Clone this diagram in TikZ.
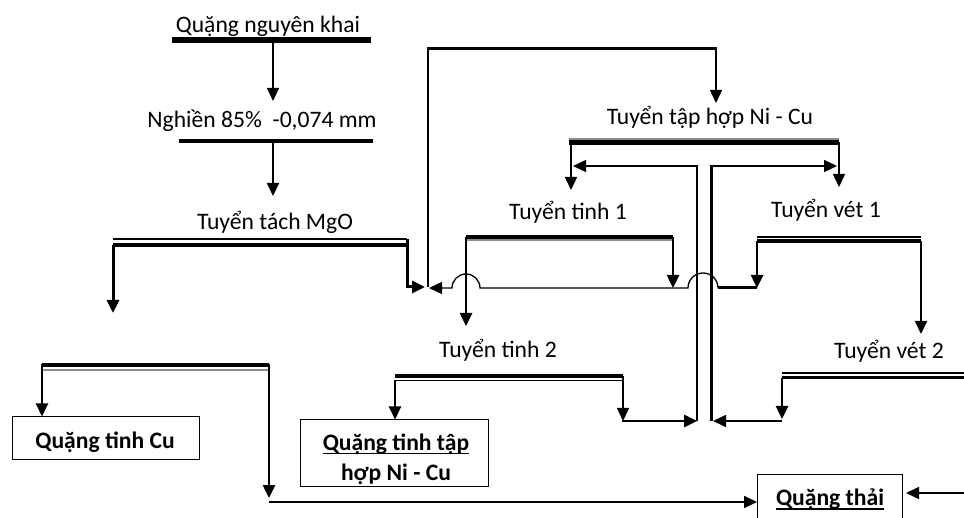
\documentclass[tikz,border=0pt]{standalone}
\usepackage{fontspec}
\setmainfont{Carlito}
\usetikzlibrary{arrows.meta}
\begin{document}
\begin{tikzpicture}[x=1pt,y=-1pt,
  arr/.style={-{Triangle[length=13pt,width=12pt]}},
  lbl/.style={anchor=base, inner sep=0pt, font=\fontsize{23.6}{28}\selectfont},
  blbl/.style={anchor=base, inner sep=0pt, font=\fontsize{23.6}{28}\selectfont\bfseries},
  boxs/.style={draw, line width=1pt, inner sep=0pt, fill=white},
  bar/.style={line width=#1, line cap=butt},
  greybar/.style={line width=#1, draw=black!45}]
\clip (0,0) rectangle (964,518);
\fill[white] (0,0) rectangle (964,518);

% ---------- raw ore ----------
\node[lbl] (raw) at (268,33) {Quặng nguyên khai};
\coordinate (rawL) at (172,40); \coordinate (rawR) at (371,40);
\draw[bar=6pt] (rawL) -- (rawR);
\coordinate (rawO) at (273,43); \coordinate (grI) at (273,101);
\draw[line width=1.2pt, arr] (rawO) -- (grI);

% ---------- grinding ----------
\node[lbl] (grind) at (262,128) {Nghiền 85\%~~-0,074 mm};
\coordinate (grL) at (179,141); \coordinate (grR) at (373,141);
\draw[bar=4.5pt] (grL) -- (grR);
\coordinate (grO) at (273,143); \coordinate (mgI) at (273,196);
\draw[line width=2.2pt, arr] (grO) -- (mgI);

% ---------- MgO ----------
\node[lbl] (mgo) at (275,230) {Tuyển tách MgO};
\coordinate (mgL) at (113,239); \coordinate (mgR) at (407,239);
\draw[bar=1.4pt] (mgL) -- (mgR);
\draw[bar=4.5pt] (113,245) -- (407,245);
\coordinate (mgLo) at (113,313);
\draw[line width=3pt, arr] (113,245) -- (mgLo);
\coordinate (feedM) at (425,287);
\draw[line width=3pt, arr] (mgR) -- (407,287) -- (feedM);

% ---------- feed line to bulk flotation ----------
\coordinate (feedJ) at (428,287);
\coordinate (topL) at (428,49); \coordinate (topR) at (716,49);
\coordinate (tapI) at (716,103);
\draw[line width=1.5pt] (feedJ) -- (topL);
\draw[line width=3pt] (426.5,49) -- (topR);
\draw[line width=1.5pt, arr] (716,47.5) -- (tapI);

% ---------- bulk Ni-Cu ----------
\node[lbl] (tap) at (710,125) {Tuyển tập hợp Ni - Cu};
\coordinate (tapL) at (569,139); \coordinate (tapR) at (839,139);
\draw[greybar=2pt] (tapL) -- (tapR);
\draw[bar=5pt] (569,142.5) -- (839,142.5);
\coordinate (t1I) at (571,190); \coordinate (v1I) at (839,187);
\draw[line width=1.5pt, arr] (571,142) -- (t1I);
\draw[line width=1.5pt, arr] (839,142) -- (v1I);

% ---------- central T (recycles) ----------
\coordinate (tLb) at (697,421); \coordinate (tLt) at (697,166);
\coordinate (tLe) at (573,166);
\draw[line width=1.5pt, arr] (tLb) -- (tLt) -- (tLe);
\coordinate (tRb) at (711,421); \coordinate (tRt) at (711,166);
\coordinate (tRe) at (837,166);
\draw[line width=3pt] (tRb) -- (711,166);
\draw[line width=1.5pt, arr] (710,166) -- (tRe);

% ---------- cleaner 1 ----------
\node[lbl] (t1) at (568,220) {Tuyển tinh 1};
\coordinate (t1L) at (466,237); \coordinate (t1R) at (673,237);
\draw[bar=4.5pt] (t1L) -- (t1R);
\draw[greybar=2pt] (466,240.5) -- (673,240.5);
\coordinate (t2I) at (466,326); \coordinate (retA) at (673,288);
\draw[line width=2.5pt, arr] (466,237) -- (t2I);
\draw[line width=2.5pt, arr] (t1R) -- (retA);

% ---------- scavenger 1 ----------
\node[lbl] (v1) at (826,218) {Tuyển vét 1};
\coordinate (v1L) at (757,237); \coordinate (v1R) at (921,237);
\draw[bar=1.5pt] (v1L) -- (v1R);
\draw[bar=3.5pt] (757,241) -- (921,241);
\coordinate (retB) at (757,288); \coordinate (v2I) at (921,334);
\draw[line width=2.5pt, arr] (757,241) -- (retB);
\draw[line width=2pt, arr] (921,241) -- (v2I);

% ---------- return line with hops ----------
\coordinate (hop2R) at (718,288); \coordinate (feedR) at (429,288);
\draw[line width=3pt] (retB) -- (hop2R);
\draw[line width=1.3pt, arr] (hop2R) arc[start angle=0,end angle=180,radius=15pt]
   -- (480,288) arc[start angle=0,end angle=180,radius=14pt] -- (feedR);

% ---------- cleaner 2 ----------
\node[lbl] (t2) at (498,358) {Tuyển tinh 2};
\coordinate (t2L) at (395,376); \coordinate (t2R) at (623,376);
\draw[bar=4.5pt] (t2L) -- (t2R);
\draw[bar=1.5pt] (395,380.5) -- (623,380.5);
\coordinate (t2Ro) at (623,421);
\draw[line width=1.5pt, arr] (623,376) -- (t2Ro);
\draw[line width=2.5pt, arr] (622,421) -- (tLb);

% ---------- scavenger 2 ----------
\node[lbl] (v2) at (889,359) {Tuyển vét 2};
\coordinate (v2L) at (782,373); \coordinate (v2R) at (964,373);
\draw[bar=2pt] (v2L) -- (v2R);
\draw[bar=3pt] (782,378) -- (964,378);
\coordinate (v2Lo) at (782,419);
\draw[line width=2.5pt, arr] (782,378) -- (v2Lo);
\draw[line width=1.5pt, arr] (782,421) -- (713,421);

% ---------- Cu cleaning (unlabelled) ----------
\coordinate (cuL) at (42,365); \coordinate (cuR) at (269,365);
\draw[bar=4.5pt] (cuL) -- (cuR);
\draw[greybar=2pt] (42,370) -- (269,370);

% ---------- product boxes ----------
\node[boxs, minimum width=187pt, minimum height=42pt] (cu) at (105.5,438) {};
\node[blbl] (cut) at (105,449) {Quặng tinh Cu};
\draw[line width=2.2pt, arr] (42,364) -- (cu.north -| cuL);

\node[boxs, minimum width=188pt, minimum height=66pt] (nicu) at (394,453) {};
\node[blbl] (nicu1) at (396,450) {Quặng tinh tập};
\draw[line width=1.8pt] ([yshift=-3.5pt]nicu1.base west) -- ([yshift=-3.5pt]nicu1.base east);
\node[blbl] (nicu2) at (396,480) {hợp Ni - Cu};
\draw[line width=2.2pt, arr] (395,380) -- (nicu.north -| t2L);

\node[boxs, minimum width=145pt, minimum height=70pt, anchor=north west] (thai) at (757,474) {};
\node[blbl] (thait) at (830,505) {Quặng thải};
\draw[line width=1.8pt] ([yshift=-4pt]thait.base west) -- ([yshift=-4pt]thait.base east);

\coordinate (cuRo) at (269,498); \coordinate (tailL) at (269,502);
\draw[line width=2.5pt, arr] (269,364) -- (cuRo);
\draw[line width=2pt, arr] (tailL) -- (thai.west |- tailL);
\coordinate (edgeR) at (964,493);
\draw[line width=1.5pt, arr] (edgeR) -- ([xshift=3pt]thai.east |- edgeR);
\end{tikzpicture}
\end{document}
